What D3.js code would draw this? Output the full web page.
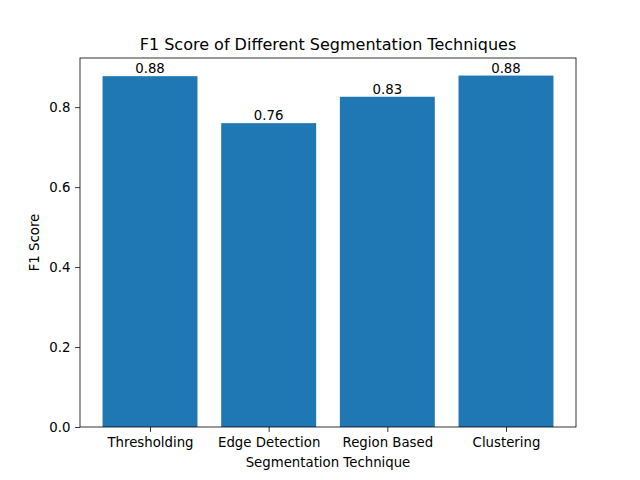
<!DOCTYPE html>
<html>
<head>
<meta charset="utf-8">
<script src="https://cdn.jsdelivr.net/npm/d3@7"></script>
<style>
  body { margin: 0; background: #fff; }
  text { font-family: "DejaVu Sans", sans-serif; fill: #000; }
</style>
</head>
<body>
<svg id="chart"></svg>
<script>
let techniques = ['Thresholding', 'Edge Detection', 'Region Based', 'Clustering']
let f1Scores = [0.8775, 0.76, 0.826, 0.879]
let yTicks = [0.0, 0.2, 0.4, 0.6, 0.8]

let width = 640
let height = 480
let margin = { top: 58, right: 64, bottom: 53, left: 80 }
let w = width - margin.left - margin.right
let h = height - margin.top - margin.bottom

let svg = d3.select('#chart')
  .attr('width', width)
  .attr('height', height)

let g = svg.append('g')
  .attr('transform', 'translate(' + margin.left + ',' + margin.top + ')')

// matplotlib style: bar width 0.8, 5% margins on x
let barW = 0.8
let lo = -barW / 2
let hi = techniques.length - 1 + barW / 2
let pad = (hi - lo) * 0.05
let x = d3.scaleLinear().domain([lo - pad, hi + pad]).range([0, w])
let y = d3.scaleLinear().domain([0, d3.max(f1Scores) * 1.05]).range([h, 0])

g.selectAll('rect.bar')
  .data(f1Scores)
  .enter().append('rect')
  .attr('class', 'bar')
  .attr('x', (d, i) => x(i - barW / 2))
  .attr('width', (d, i) => x(i + barW / 2) - x(i - barW / 2))
  .attr('y', d => y(d))
  .attr('height', d => h - y(d))
  .attr('fill', '#1f77b4')

g.selectAll('text.val')
  .data(f1Scores)
  .enter().append('text')
  .attr('class', 'val')
  .attr('x', (d, i) => x(i))
  .attr('y', d => y(d) - 3)
  .attr('text-anchor', 'middle')
  .style('font-size', '13.3px')
  .text(d => d.toFixed(2))

let xAxis = d3.axisBottom(x)
  .tickValues(d3.range(techniques.length))
  .tickFormat(i => techniques[i])
  .tickSizeOuter(0)
  .tickSize(4.9)
  .tickPadding(6)
let yAxis = d3.axisLeft(y)
  .tickValues(yTicks)
  .tickFormat(d3.format('.1f'))
  .tickSizeOuter(0)
  .tickSize(4.9)
  .tickPadding(4.7)

let gx = g.append('g').attr('transform', 'translate(0,' + h + ')').call(xAxis)
let gy = g.append('g').call(yAxis)
;[gx, gy].forEach(a => {
  a.select('.domain').remove()
  a.selectAll('.tick line').attr('stroke', '#000').attr('stroke-width', 0.8)
  a.selectAll('.tick text').style('font-size', '13.3px').attr('fill', '#000')
})

// axes frame
g.append('rect')
  .attr('width', w)
  .attr('height', h)
  .attr('fill', 'none')
  .attr('stroke', '#000')
  .attr('stroke-width', 0.8)

svg.append('text')
  .attr('x', margin.left + w / 2)
  .attr('y', margin.top - 8)
  .attr('text-anchor', 'middle')
  .style('font-size', '16px')
  .text('F1 Score of Different Segmentation Techniques')

svg.append('text')
  .attr('x', margin.left + w / 2)
  .attr('y', height - 13)
  .attr('text-anchor', 'middle')
  .style('font-size', '13.3px')
  .text('Segmentation Technique')

svg.append('text')
  .attr('transform', 'translate(39,' + (margin.top + h / 2) + ') rotate(-90)')
  .attr('text-anchor', 'middle')
  .style('font-size', '13.3px')
  .text('F1 Score')
</script>
</body>
</html>
